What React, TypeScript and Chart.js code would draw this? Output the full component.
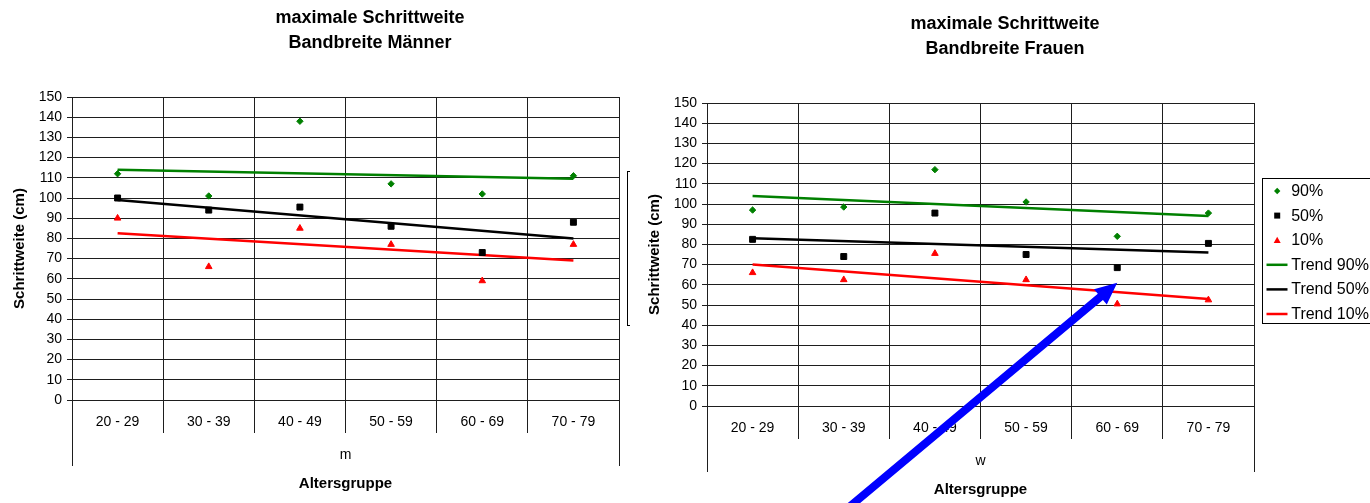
import React, { useEffect, useRef } from 'react';
import { Chart, registerables } from 'chart.js';

Chart.register(...registerables);

// ---------- data ----------
const categories = ['20 - 29', '30 - 39', '40 - 49', '50 - 59', '60 - 69', '70 - 79'];
const yMin = 0;
const yMax = 150;
const yStep = 10;
const seriesLabels = ['90%', '50%', '10%'];
const trendLabels = ['Trend 90%', 'Trend 50%', 'Trend 10%'];

// Männer
const menP90 = [112, 101, 138, 107, 102, 111];
const menP50 = [100, 94, 95.5, 86, 73, 88];
const menP10 = [90, 66, 85, 77, 59, 77];
const menTrend90 = [114, null, null, null, null, 109.5];
const menTrend50 = [99, null, null, null, null, 80];
const menTrend10 = [82.5, null, null, null, null, 69];

// Frauen
const womenP90 = [97, 98.5, 117, 101, 84, 95.5];
const womenP50 = [82.5, 74, 95.5, 75, 68.5, 80.5];
const womenP10 = [66, 62.5, 75.5, 62.5, 50.5, 52.5];
const womenTrend90 = [104, null, null, null, null, 94];
const womenTrend50 = [83, null, null, null, null, 76];
const womenTrend10 = [70, null, null, null, null, 53];

// arrow annotation (points at "60 - 69", value ~61)
const arrowTipCategory = 4;
const arrowTipValue = 61;

// ---------- styles ----------
const FONT = "'Liberation Sans', Arial, sans-serif";
const GREEN = '#008000';
const BLACK = '#000000';
const RED = '#ff0000';
const GRID = '#1e1e1e';
const W = 750;
const H = 497;
const PLOT_LEFT = 77;
const PLOT_RIGHT = 624;
const PLOT_TOP = 97;
const PLOT_BOTTOM = 400;

Chart.defaults.font.family = FONT;
Chart.defaults.color = '#000';

const align = (v: number) => Math.round(v - 0.5) + 0.5;

function drawMarker(ctx: CanvasRenderingContext2D, style: string, x: number, y: number, color: string) {
  ctx.fillStyle = color;
  ctx.beginPath();
  if (style === 'rectRot') {
    const r = 3.2;
    ctx.moveTo(x - r, y);
    ctx.lineTo(x, y - r);
    ctx.lineTo(x + r, y);
    ctx.lineTo(x, y + r);
  } else if (style === 'rect') {
    ctx.rect(x - 3, y - 3, 6, 6);
  } else {
    ctx.moveTo(x, y - 3.5);
    ctx.lineTo(x + 3.5, y + 2.8);
    ctx.lineTo(x - 3.5, y + 2.8);
  }
  ctx.closePath();
  ctx.fill();
}

type PanelProps = {
  left: number;
  top: number;
  z: number;
  title: string[];
  sub: string;
  p90: number[];
  p50: number[];
  p10: number[];
  t90: (number | null)[];
  t50: (number | null)[];
  t10: (number | null)[];
  legendTop: number;
  legendBottom: number;
  arrow: boolean;
};

function Panel(props: PanelProps) {
  const ref = useRef<HTMLCanvasElement>(null);

  useEffect(() => {
    const canvas = ref.current;
    if (!canvas) return;

    const extras = {
      id: 'extras',
      afterDraw(chart: any) {
        const ctx: CanvasRenderingContext2D = chart.ctx;
        const a = chart.chartArea;
        ctx.save();

        // chart title, centred on the whole chart object
        ctx.fillStyle = '#000';
        ctx.font = `bold 18px ${FONT}`;
        ctx.textAlign = 'center';
        ctx.textBaseline = 'middle';
        props.title.forEach((line, i) => {
          ctx.fillText(line, W / 2, 18.5 + i * 25);
        });

        // outer lines of the multi-level category axis
        ctx.strokeStyle = GRID;
        ctx.lineWidth = 1;
        ctx.beginPath();
        for (const x of [a.left, a.right]) {
          const px = align(x);
          ctx.moveTo(px, a.bottom + 33);
          ctx.lineTo(px, a.bottom + 66);
        }
        ctx.stroke();

        // second category level
        ctx.fillStyle = '#000';
        ctx.font = `14px ${FONT}`;
        ctx.textAlign = 'center';
        ctx.textBaseline = 'alphabetic';
        ctx.fillText(props.sub, (a.left + a.right) / 2, a.bottom + 58.5);

        // legend
        const lx = align(a.right + 8.5);
        const lt = align(props.legendTop);
        const lb = align(props.legendBottom);
        ctx.strokeStyle = '#000';
        ctx.lineWidth = 1;
        ctx.fillStyle = '#fff';
        ctx.fillRect(lx, lt, 140, lb - lt);
        ctx.strokeRect(lx, lt, 140, lb - lt);
        ctx.font = `16px ${FONT}`;
        ctx.textAlign = 'left';
        ctx.textBaseline = 'middle';
        const ds = chart.data.datasets;
        ds.forEach((d: any, i: number) => {
          const y = props.legendTop + 13 + i * 24.6;
          if (d.showLine === false) {
            drawMarker(ctx, d.pointStyle, lx + 14.7, y, d.pointBackgroundColor);
          } else {
            ctx.strokeStyle = d.borderColor;
            ctx.lineWidth = 2.5;
            ctx.beginPath();
            ctx.moveTo(lx + 4, y);
            ctx.lineTo(lx + 25, y);
            ctx.stroke();
          }
          ctx.fillStyle = '#000';
          ctx.fillText(d.label, lx + 28.7, y + 0.5);
        });

        // blue arrow annotation
        if (props.arrow) {
          const tx = chart.scales.x.getPixelForValue(arrowTipCategory);
          const ty = chart.scales.y.getPixelForValue(arrowTipValue);
          const dl = Math.hypot(263, 220);
          const ux = -263 / dl;
          const uy = 220 / dl;
          const px = -uy;
          const py = ux;
          const headLen = 22;
          const headHalf = 10;
          const shaftHalf = 4;
          const len = 420;
          const bx = tx + ux * headLen;
          const by = ty + uy * headLen;
          const ex = tx + ux * len;
          const ey = ty + uy * len;
          ctx.fillStyle = '#0000ff';
          ctx.beginPath();
          ctx.moveTo(tx, ty);
          ctx.lineTo(bx + px * headHalf, by + py * headHalf);
          ctx.lineTo(bx + px * shaftHalf, by + py * shaftHalf);
          ctx.lineTo(ex + px * shaftHalf, ey + py * shaftHalf);
          ctx.lineTo(ex - px * shaftHalf, ey - py * shaftHalf);
          ctx.lineTo(bx - px * shaftHalf, by - py * shaftHalf);
          ctx.lineTo(bx - px * headHalf, by - py * headHalf);
          ctx.closePath();
          ctx.fill();
        }
        ctx.restore();
      },
    };

    const marker = (label: string, data: number[], style: string, color: string, radius: number) => ({
      label,
      data,
      showLine: false,
      pointStyle: style,
      pointRadius: radius,
      pointBorderWidth: 1,
      pointBackgroundColor: color,
      pointBorderColor: color,
      borderColor: color,
      backgroundColor: color,
    });
    const trend = (label: string, data: (number | null)[], color: string) => ({
      label,
      data,
      borderColor: color,
      backgroundColor: color,
      borderWidth: 2.5,
      pointRadius: 0,
      spanGaps: true,
      tension: 0,
      fill: false,
    });

    const chart = new Chart(canvas, {
      type: 'line',
      data: {
        labels: categories,
        datasets: [
          marker(seriesLabels[0], props.p90, 'rectRot', GREEN, 3.2),
          marker(seriesLabels[1], props.p50, 'rect', BLACK, 4.2),
          marker(seriesLabels[2], props.p10, 'triangle', RED, 3.8),
          trend(trendLabels[0], props.t90, GREEN),
          trend(trendLabels[1], props.t50, BLACK),
          trend(trendLabels[2], props.t10, RED),
        ] as any,
      },
      options: {
        responsive: false,
        animation: false,
        devicePixelRatio: 1,
        events: [],
        layout: { padding: { left: 0, right: W - PLOT_RIGHT, top: PLOT_TOP, bottom: 0 } },
        plugins: {
          legend: { display: false },
          tooltip: { enabled: false },
          title: { display: false },
        },
        scales: {
          x: {
            type: 'category',
            offset: true,
            grid: { offset: true, color: GRID, lineWidth: 1, tickLength: 33, drawTicks: true },
            border: { color: GRID, width: 1 },
            ticks: {
              color: '#000',
              font: { size: 14, family: FONT },
              padding: -19.5,
              maxRotation: 0,
              autoSkip: false,
            },
            title: {
              display: true,
              text: 'Altersgruppe',
              color: '#000',
              font: { size: 15, weight: 'bold', family: FONT },
              padding: { top: 0, bottom: 4.5 },
            },
            afterFit: (s: any) => {
              s.height = H - PLOT_BOTTOM;
            },
          },
          y: {
            min: yMin,
            max: yMax,
            ticks: { stepSize: yStep, color: '#000', font: { size: 14, family: FONT }, padding: 5 },
            grid: { color: GRID, lineWidth: 1, tickLength: 5 },
            border: { color: GRID, width: 1 },
            title: {
              display: true,
              text: 'Schrittweite (cm)',
              color: '#000',
              font: { size: 15, weight: 'bold', family: FONT },
              padding: { top: 15.5, bottom: 0 },
            },
            afterFit: (s: any) => {
              s.width = PLOT_LEFT;
            },
          },
        },
      } as any,
      plugins: [extras],
    });
    return () => chart.destroy();
  }, []);

  return (
    <canvas
      ref={ref}
      width={W}
      height={H}
      style={{
        position: 'absolute',
        left: props.left,
        top: props.top,
        width: W,
        height: H,
        background: '#fff',
        zIndex: props.z,
        display: 'block',
      }}
    />
  );
}

export default function App() {
  return (
    <div
      style={{
        position: 'fixed',
        left: 0,
        top: 0,
        width: 1370,
        height: 503,
        overflow: 'hidden',
        background: '#fff',
      }}
    >
      <Panel
        left={-5}
        top={0}
        z={1}
        title={['maximale Schrittweite', 'Bandbreite Männer']}
        sub="m"
        p90={menP90}
        p50={menP50}
        p10={menP10}
        t90={menTrend90}
        t50={menTrend50}
        t10={menTrend10}
        legendTop={171}
        legendBottom={325}
        arrow={false}
      />
      <Panel
        left={630}
        top={6}
        z={2}
        title={['maximale Schrittweite', 'Bandbreite Frauen']}
        sub="w"
        p90={womenP90}
        p50={womenP50}
        p10={womenP10}
        t90={womenTrend90}
        t50={womenTrend50}
        t10={womenTrend10}
        legendTop={172}
        legendBottom={317}
        arrow={true}
      />
    </div>
  );
}
